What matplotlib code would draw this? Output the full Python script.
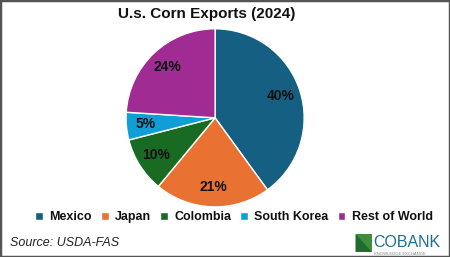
import matplotlib.pyplot as plt
from matplotlib.patches import Rectangle, Polygon

plt.rcParams['font.family'] = ['Liberation Sans', 'DejaVu Sans']

countries = ["Mexico", "Japan", "Colombia", "South Korea", "Rest of World"]
shares = [40, 21, 10, 5, 24]
colors = ["#156082", "#E97132", "#196B24", "#0F9ED5", "#A02B93"]

fig = plt.figure(figsize=(4.5, 2.57), dpi=100)
ax = fig.add_axes([0.280, 0.195, 0.396, 0.693])

wedges, texts, autotexts = ax.pie(
    shares, colors=colors, startangle=90, counterclock=False,
    autopct="%d%%", pctdistance=0.78,
    wedgeprops=dict(edgecolor="white", linewidth=1.0),
    textprops=dict(fontsize=10, fontweight="bold", color="#111111"),
)
ax.set_xlim(-1, 1)
ax.set_ylim(-1, 1)
ax.set_aspect("equal")

fig.text(0.46, 0.945, "U.s. Corn Exports (2024)", ha="center", va="center",
         fontsize=11, fontweight="bold", color="#111111")

fig.legend(wedges, countries, loc="center", bbox_to_anchor=(0.52, 0.155), ncol=5,
           frameon=False, handlelength=0.6, handleheight=0.6, handletextpad=0.5,
           columnspacing=0.75, prop=dict(size=9, weight="bold"), labelcolor="#111111",
           borderaxespad=0, borderpad=0)

fig.text(0.022, 0.055, "Source: USDA-FAS", ha="left", va="center",
         fontsize=9, style="italic", color="#222222")

# CoBank logo
fig.patches.append(Polygon([[0.790, 0.090], [0.826, 0.090], [0.826, 0.020], [0.790, 0.020]],
                           closed=True, transform=fig.transFigure, facecolor="#3E8E3A",
                           edgecolor="none"))
fig.patches.append(Polygon([[0.790, 0.090], [0.826, 0.020], [0.790, 0.020]],
                           closed=True, transform=fig.transFigure, facecolor="#1E6B2E",
                           edgecolor="none"))
fig.text(0.830, 0.058, "COBANK", ha="left", va="center", fontsize=11.5,
         color="#1C6E8C")
fig.text(0.832, 0.012, "KNOWLEDGE EXCHANGE", ha="left", va="center", fontsize=3,
         color="#888888")

fig.patches.append(Rectangle((0, 0), 1, 1, transform=fig.transFigure, fill=False,
                             edgecolor="#555555", linewidth=2.5))

fig.savefig("out.png", dpi=100)
